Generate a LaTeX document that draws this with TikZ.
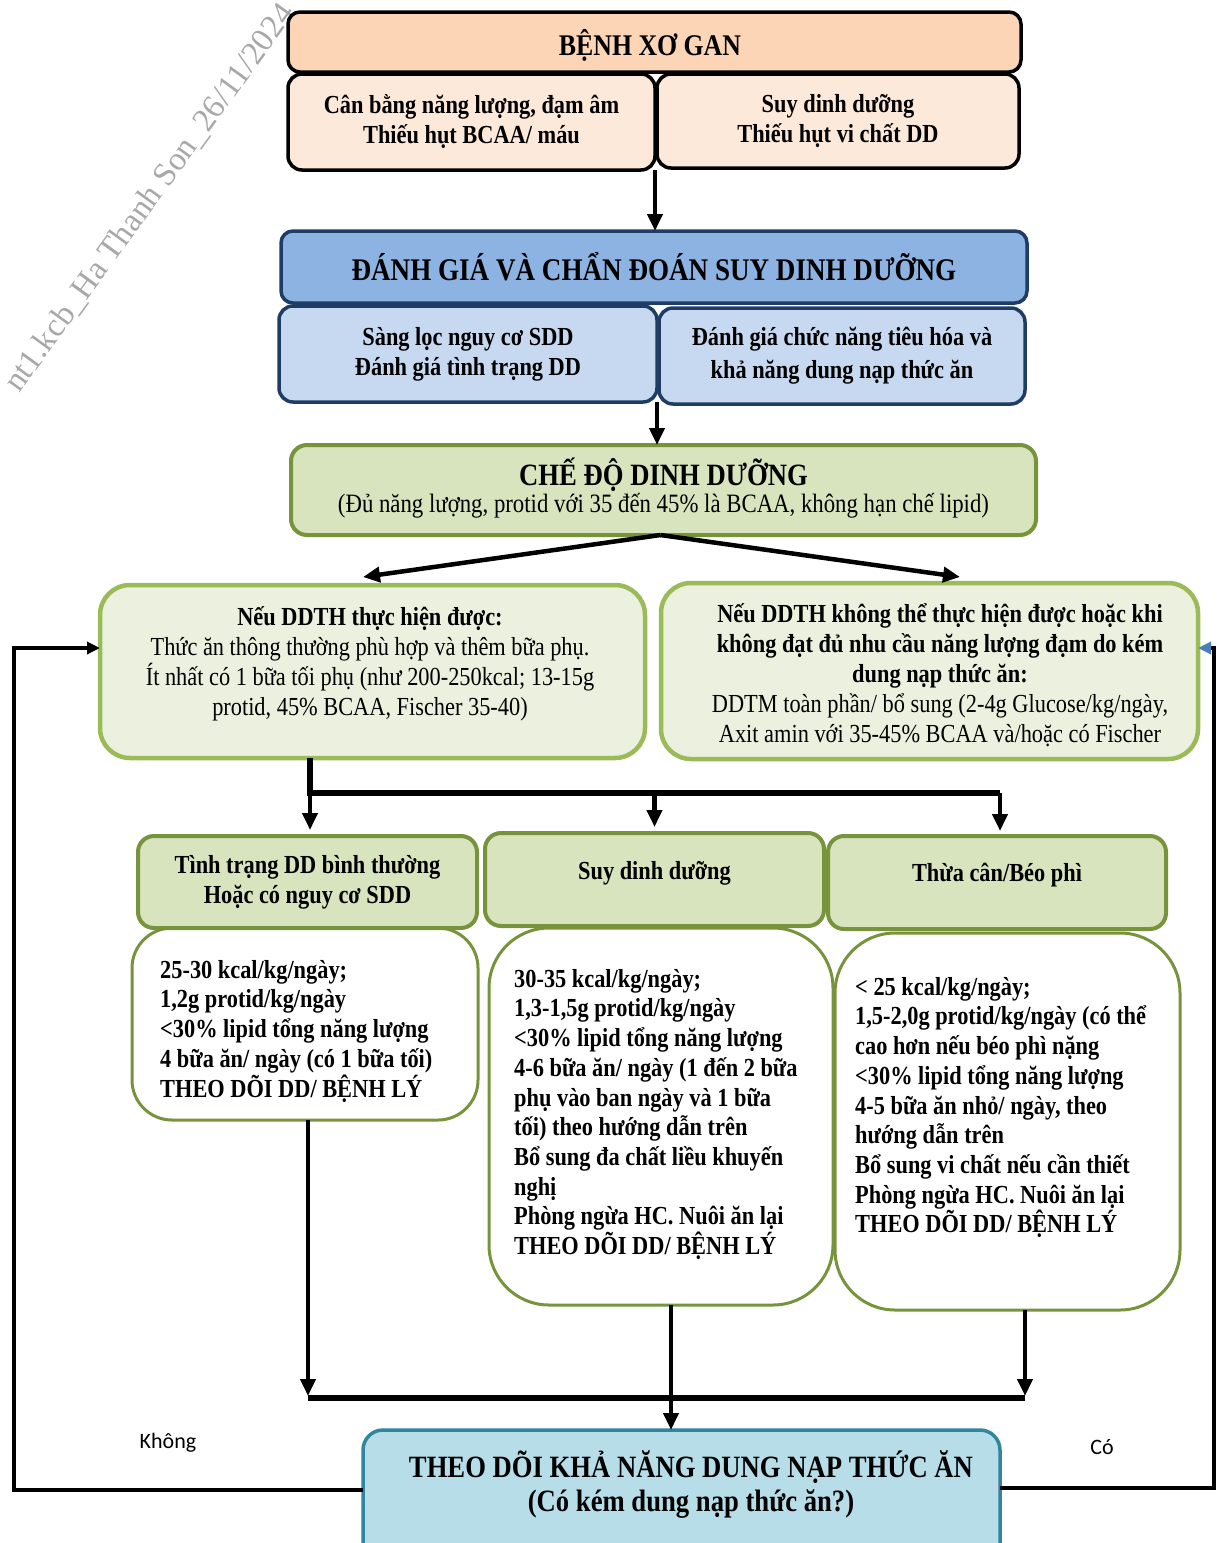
\documentclass[tikz,border=0pt]{standalone}
\usepackage{fontspec}
\setmainfont{Liberation Serif}[FakeStretch=0.86]
\newfontfamily\tagfont{Carlito}
\newfontfamily\markfont{Liberation Serif}
\usetikzlibrary{arrows.meta,calc}

\definecolor{peachTop}{HTML}{FBD5B5}
\definecolor{peachSub}{HTML}{FDE9D9}
\definecolor{blueTop}{HTML}{8DB3E2}
\definecolor{blueSub}{HTML}{C6D9F1}
\definecolor{blueLine}{HTML}{1F3D64}
\definecolor{greenFill}{HTML}{D7E4BD}
\definecolor{greenLine}{HTML}{77933C}
\definecolor{paleFill}{HTML}{EBF1DE}
\definecolor{paleLine}{HTML}{9BBB59}
\definecolor{tealFill}{HTML}{B7DEE8}
\definecolor{tealLine}{HTML}{31859C}
\definecolor{tipBlue}{HTML}{4A7EBB}
\definecolor{markGray}{HTML}{A8A8A8}

\begin{document}
\begin{tikzpicture}[x=1pt,y=-1pt,
  box/.style={rectangle, inner sep=0pt, outer sep=0pt, align=center},
  peachhead/.style={box, fill=peachTop, draw=black, line width=3.5, rounded corners=12},
  peachsub/.style={box, fill=peachSub, draw=black, line width=3.5, rounded corners=14},
  bluehead/.style={box, fill=blueTop, draw=blueLine, line width=3.5, rounded corners=12},
  bluesub/.style={box, fill=blueSub, draw=blueLine, line width=3.5, rounded corners=14},
  greenhead/.style={box, fill=greenFill, draw=greenLine, line width=4, rounded corners=16},
  palebox/.style={box, fill=paleFill, draw=paleLine, line width=4.5, rounded corners=30},
  advice/.style={box, fill=white, draw=greenLine, line width=3},
  monitor/.style={box, fill=tealFill, draw=tealLine, line width=3.5, rounded corners=20},
  ttl/.style={font=\bfseries\fontsize{30}{35}\selectfont},
  bodyb/.style={font=\bfseries\fontsize{26}{30}\selectfont},
  body/.style={font=\fontsize{26}{30}\selectfont},
  listtext/.style={anchor=north west, inner sep=0pt, align=left, font=\bfseries\fontsize{26}{29.7}\selectfont},
  conn/.style={line width=4.5, -{Triangle[length=17pt,width=15pt]}},
  bar/.style={line width=6},
  loopline/.style={line width=3.5},
]
\useasboundingbox (0,0) rectangle (1217,1543);

% diagonal stamp
\node[font=\markfont\fontsize{33}{36}\selectfont, text=markGray, rotate=54] (stamp) at (150,198) {nt1.kcb\_Ha Thanh Son\_26/11/2024};

% disease and its consequences
\node[peachhead, minimum width=733, minimum height=60] (b1) at (654.5,42) {};
\node[ttl, inner sep=0pt] (t1) at (650,45) {BỆNH XƠ GAN};
\node[peachsub, bodyb, minimum width=367, minimum height=96] (b2a) at (471.5,122) {Cân bằng năng lượng, đạm âm\\Thiếu hụt BCAA/ máu};
\node[peachsub, bodyb, minimum width=362, minimum height=94] (b2b) at (838,121) {Suy dinh dưỡng\\Thiếu hụt vi chất DD};

% assessment
\node[bluehead, font=\bfseries\fontsize{31.5}{35}\selectfont, minimum width=746, minimum height=72] (b3) at (654,267) {ĐÁNH GIÁ VÀ CHẨN ĐOÁN SUY DINH DƯỠNG};
\node[bluesub, bodyb, minimum width=378, minimum height=96] (b4a) at (468,354) {Sàng lọc nguy cơ SDD\\Đánh giá tình trạng DD};
\node[bluesub, font=\bfseries\fontsize{26}{33}\selectfont, minimum width=366, minimum height=96] (b4b) at (842,356) {Đánh giá chức năng tiêu hóa và\\khả năng dung nạp thức ăn};

% diet
\node[greenhead, minimum width=745, minimum height=90] (b5) at (663.5,490) {};
\node[align=center, inner sep=0pt] (t5) at (663.5,488) {{\bfseries\fontsize{31}{33}\selectfont CHẾ ĐỘ DINH DƯỠNG}\\{\fontsize{26.5}{31}\selectfont (Đủ năng lượng, protid với 35 đến 45\% là BCAA, không hạn chế lipid)}};

% feeding routes
\node[palebox, minimum width=545, minimum height=173] (b6a) at (372.5,671.5) {};
\node[body, align=center, inner sep=0pt] (t6a) at (370,664) {\textbf{Nếu DDTH thực hiện được:}\\Thức ăn thông thường phù hợp và thêm bữa phụ.\\Ít nhất có 1 bữa tối phụ (như 200-250kcal; 13-15g\\protid, 45\% BCAA, Fischer 35-40)};
\node[palebox, minimum width=537, minimum height=176] (b6b) at (929.5,671) {};
\node[body, align=center, inner sep=0pt] (t6b) at (940,675) {\textbf{Nếu DDTH không thể thực hiện được hoặc khi}\\\textbf{không đạt đủ nhu cầu năng lượng đạm do kém}\\\textbf{dung nạp thức ăn:}\\DDTM toàn phần/ bổ sung (2-4g Glucose/kg/ngày,\\Axit amin với 35-45\% BCAA và/hoặc có Fischer};

% recommendations by nutritional status
\node[advice, rounded corners=40, minimum width=346, minimum height=192] (b8a) at (305,1024) {};
\node[advice, rounded corners=60, minimum width=344, minimum height=377] (b8b) at (661,1116.5) {};
\node[advice, rounded corners=60, minimum width=345, minimum height=377] (b8c) at (1007.5,1121.5) {};

\node[greenhead, bodyb, minimum width=339, minimum height=92] (b7a) at (307.5,882) {Tình trạng DD bình thường\\Hoặc có nguy cơ SDD};
\node[greenhead, bodyb, minimum width=339, minimum height=93] (b7b) at (654.5,879.5) {};
\node[bodyb, inner sep=0pt] (t7b) at (654.5,873) {Suy dinh dưỡng};
\node[greenhead, bodyb, minimum width=338, minimum height=93] (b7c) at (997,882.5) {};
\node[bodyb, inner sep=0pt] (t7c) at (997,875) {Thừa cân/Béo phì};

\node[listtext] (t8a) at (160,960) {25-30 kcal/kg/ngày;\\1,2g protid/kg/ngày\\<30\% lipid tổng năng lượng\\4 bữa ăn/ ngày (có 1 bữa tối)\\THEO DÕI DD/ BỆNH LÝ};
\node[listtext] (t8b) at (514,969) {30-35 kcal/kg/ngày;\\1,3-1,5g protid/kg/ngày\\<30\% lipid tổng năng lượng\\4-6 bữa ăn/ ngày (1 đến 2 bữa\\phụ vào ban ngày và 1 bữa\\tối) theo hướng dẫn trên\\Bổ sung đa chất liều khuyến\\nghị\\Phòng ngừa HC. Nuôi ăn lại\\THEO DÕI DD/ BỆNH LÝ};
\node[listtext] (t8c) at (855,977) {< 25 kcal/kg/ngày;\\1,5-2,0g protid/kg/ngày (có thể\\cao hơn nếu béo phì nặng\\<30\% lipid tổng năng lượng\\4-5 bữa ăn nhỏ/ ngày, theo\\hướng dẫn trên\\Bổ sung vi chất nếu cần thiết\\Phòng ngừa HC. Nuôi ăn lại\\THEO DÕI DD/ BỆNH LÝ};

% monitoring
\node[monitor, minimum width=637, minimum height=144] (b9) at (681.5,1502) {};
\node[align=center, inner sep=0pt, font=\bfseries\fontsize{31}{34}\selectfont] (t9) at (691,1484) {THEO DÕI KHẢ NĂNG DUNG NẠP THỨC ĂN\\(Có kém dung nạp thức ăn?)};

\node[font=\tagfont\fontsize{22}{26}\selectfont, inner sep=0pt] (no) at (168,1443) {Không};
\node[font=\tagfont\fontsize{22}{26}\selectfont, inner sep=0pt] (yes) at (1102,1447) {Có};

% main flow
\draw[conn] (b2a.south east) -- (b2a.south east |- b3.north);
\draw[conn] (b4a.south east) -- (b4a.south east |- b5.north);
\coordinate (tipL) at (363,577);
\coordinate (tipR) at (960,577);
\draw[conn] ($(b5.south)+(-3,0)$) -- (tipL);
\draw[conn] ($(b5.south)+(-3,0)$) -- (tipR);

% split towards the three nutritional states
\coordinate (split) at (310,793);
\draw[bar] (b6a.south -| split) -- (split) -- (split -| 1000,0);
\draw[conn, shorten >=6pt] (split) -- (split |- b7a.north);
\draw[conn, shorten >=6pt] (b7b.north |- split) -- (b7b.north);
\draw[conn, shorten >=5pt] (split -| 1000,0) -- (1000,836);

% merge towards monitoring
\coordinate (merge) at (308,1398);
\draw[conn] (b8a.south -| merge) -- ($(merge)+(0,-2)$);
\draw[conn] (b8c.south -| 1025,0) -- (1025,1396);
\draw[bar] (merge) -- (1025,1398);
\draw[conn] (b8b.south -| 671,0) -- (b9.north -| 671,0);

% feedback loops
\draw[loopline, -{Triangle[length=13pt,width=12pt]}] ($(b9.west)+(0,-12)$) -- (14,1490) -- (14,648) -- ($(b6a.west)+(0,-23.5)$);
\draw[loopline, -{Triangle[length=13pt,width=12pt,color=tipBlue]}] ($(b9.east)+(0,-14)$) -- (1214,1488) -- (1214,648) -- ($(b6b.east)+(0,-23)$);
\end{tikzpicture}
\end{document}
